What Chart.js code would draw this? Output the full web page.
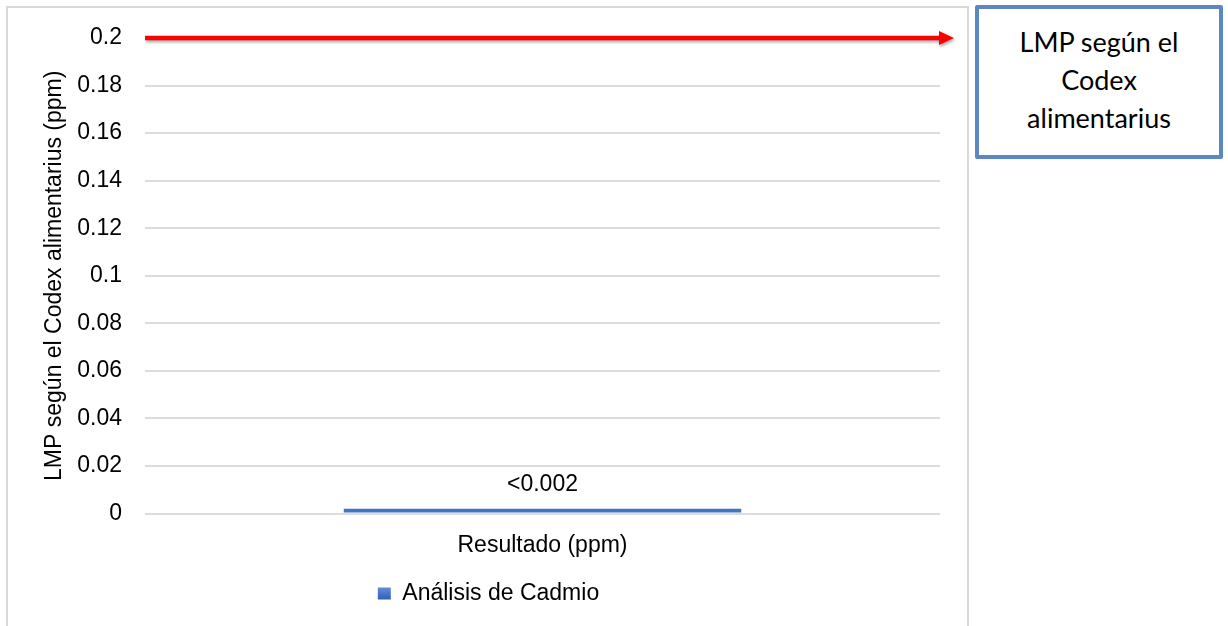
<!DOCTYPE html>
<html>
<head>
<meta charset="utf-8">
<script src="https://cdn.jsdelivr.net/npm/chart.js@4/dist/chart.umd.min.js"></script>
<style>
  html, body { margin: 0; padding: 0; background: #fff; width: 1228px; height: 626px; overflow: hidden; }
  #frame { position: absolute; left: 6px; top: 6px; width: 963px; height: 700px; box-sizing: border-box; border: 2px solid #d9d9d9; }
  #chart { position: absolute; left: 0; top: 0; }
  #note {
    position: absolute; left: 975px; top: 5px; width: 248px; height: 154px; box-sizing: border-box;
    border: 4px solid #5b87c2; border-radius: 2px; background: #fff;
    font-family: Lato, "Open Sans", sans-serif; font-size: 27px; line-height: 38px; color: #000;
    text-align: center; padding-top: 14px;
  }
</style>
</head>
<body>
<div id="frame"></div>
<canvas id="chart" width="1228" height="626"></canvas>
<div id="note">LMP según el<br>Codex<br>alimentarius</div>
<script>
// Cadmium result versus the Codex Alimentarius maximum limit
const categories = ['Resultado (ppm)'];
const seriesName = 'Análisis de Cadmio';
const cadmiumValues = [0.002];
const valueLabels = ['<0.002'];
const limitValue = 0.2;
const yTicks = [0, 0.02, 0.04, 0.06, 0.08, 0.1, 0.12, 0.14, 0.16, 0.18, 0.2];
const yTitle = 'LMP según el Codex alimentarius (ppm)';

const FONT = '"Liberation Sans", Arial, sans-serif';
const FONT_SIZE = 23;

// red arrow marking the limit line
const limitArrow = {
  id: 'limitArrow',
  afterDatasetsDraw(chart) {
    const { ctx, chartArea, scales } = chart;
    const y = scales.y.getPixelForValue(limitValue);
    const x0 = chartArea.left;
    const x1 = chartArea.right + 14;
    ctx.save();
    ctx.shadowColor = 'rgba(0,0,0,0.35)';
    ctx.shadowBlur = 3;
    ctx.shadowOffsetX = 1;
    ctx.shadowOffsetY = 2;
    ctx.strokeStyle = '#ff0000';
    ctx.fillStyle = '#ff0000';
    ctx.lineWidth = 4.5;
    ctx.beginPath();
    ctx.moveTo(x0, y);
    ctx.lineTo(x1 - 12, y);
    ctx.stroke();
    ctx.beginPath();
    ctx.moveTo(x1 - 15, y - 7);
    ctx.lineTo(x1, y);
    ctx.lineTo(x1 - 15, y + 7);
    ctx.closePath();
    ctx.fill();
    ctx.restore();
  }
};

// value labels above each bar
const barLabels = {
  id: 'barLabels',
  afterDatasetsDraw(chart) {
    const { ctx } = chart;
    const meta = chart.getDatasetMeta(0);
    ctx.save();
    ctx.font = FONT_SIZE + 'px ' + FONT;
    ctx.fillStyle = '#000';
    ctx.textAlign = 'center';
    ctx.textBaseline = 'middle';
    meta.data.forEach((bar, i) => {
      ctx.fillText(valueLabels[i], bar.x, bar.y - 24);
    });
    ctx.restore();
  }
};

// shaded swatch for the legend entry
function legendSwatch(chart) {
  const g = chart.ctx.createLinearGradient(0, 586, 0, 600);
  g.addColorStop(0, '#6a93dc');
  g.addColorStop(1, '#2e5cb8');
  return g;
}

new Chart(document.getElementById('chart'), {
  type: 'bar',
  data: {
    labels: categories,
    datasets: [{
      label: seriesName,
      data: cadmiumValues,
      backgroundColor: '#4472c4',
      borderWidth: 0,
      categoryPercentage: 1,
      barPercentage: 0.5
    }]
  },
  options: {
    responsive: false,
    animation: false,
    layout: { padding: { left: 37, right: 288, top: 38, bottom: 11 } },
    plugins: {
      tooltip: { enabled: false },
      legend: {
        position: 'bottom',
        labels: {
          color: '#000',
          font: { family: FONT, size: FONT_SIZE },
          boxWidth: 13,
          boxHeight: 12,
          padding: 8.5,
          generateLabels(chart) {
            return chart.data.datasets.map((ds, i) => ({
              text: ds.label,
              fillStyle: legendSwatch(chart),
              strokeStyle: 'rgba(0,0,0,0)',
              lineWidth: 0,
              hidden: false,
              datasetIndex: i,
              fontColor: '#000'
            }));
          }
        }
      }
    },
    scales: {
      x: {
        grid: { display: false, drawTicks: false },
        border: { display: false },
        ticks: { color: '#000', font: { family: FONT, size: FONT_SIZE }, padding: 18 },
        afterFit(scale) { scale.height = 60; }
      },
      y: {
        min: 0,
        max: limitValue,
        afterBuildTicks(scale) { scale.ticks = yTicks.map(v => ({ value: v })); },
        grid: { color: '#dcdcdc', lineWidth: 2, drawTicks: false },
        border: { display: false },
        ticks: {
          color: '#000',
          font: { family: FONT, size: FONT_SIZE },
          padding: 23,
          callback: v => String(parseFloat(Number(v).toFixed(2)))
        },
        title: {
          display: true,
          text: yTitle,
          color: '#000',
          font: { family: FONT, size: FONT_SIZE },
          padding: { top: 4, bottom: 4 }
        },
        afterFit(scale) { scale.width = 108; }
      }
    }
  },
  plugins: [limitArrow, barLabels]
});
</script>
</body>
</html>
